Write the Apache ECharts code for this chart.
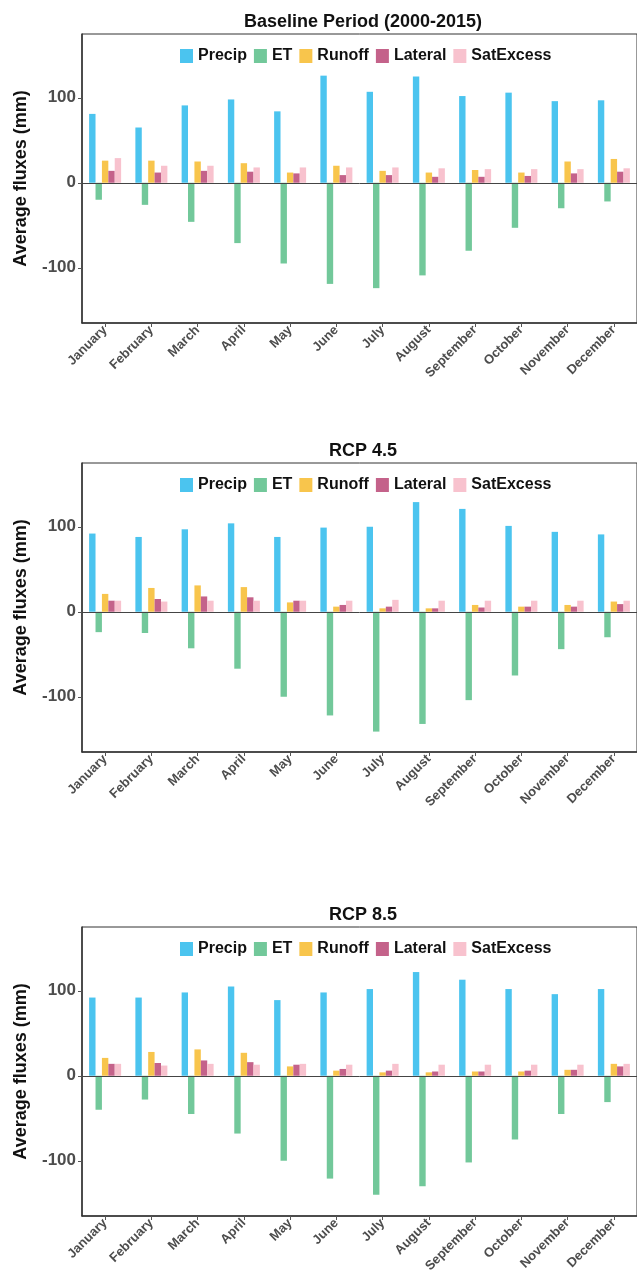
<!DOCTYPE html>
<html>
<head>
<meta charset="utf-8">
<script src="https://cdn.jsdelivr.net/npm/echarts@6/dist/echarts.min.js"></script>
<style>
  html, body { margin: 0; padding: 0; background: #fff; }
  #main { width: 637px; height: 1285px; }
</style>
</head>
<body>
<div id="main"></div>
<script>
// categories and series names
var months = ['January', 'February', 'March', 'April', 'May', 'June', 'July', 'August', 'September', 'October', 'November', 'December'];
var seriesNames = ['Precip', 'ET', 'Runoff', 'Lateral', 'SatExcess'];
var panelTitles = ['Baseline Period (2000-2015)', 'RCP 4.5', 'RCP 8.5'];
var yTicks = [-100, 0, 100];

// Baseline Period (2000-2015)
var basePrecip = [81, 65, 91, 98, 84, 126, 107, 125, 102, 106, 96, 97];
var baseET = [-20, -26, -46, -71, -95, -119, -124, -109, -80, -53, -30, -22];
var baseRunoff = [26, 26, 25, 23, 12, 20, 14, 12, 15, 12, 25, 28];
var baseLateral = [14, 12, 14, 13, 11, 9, 9, 7, 7, 8, 11, 13];
var baseSatExcess = [29, 20, 20, 18, 18, 18, 18, 17, 16, 16, 16, 17];

// RCP 4.5
var rcp45Precip = [92, 88, 97, 104, 88, 99, 100, 129, 121, 101, 94, 91];
var rcp45ET = [-24, -25, -43, -67, -100, -122, -141, -132, -104, -75, -44, -30];
var rcp45Runoff = [21, 28, 31, 29, 11, 6, 4, 4, 8, 6, 8, 12];
var rcp45Lateral = [13, 15, 18, 17, 13, 8, 6, 4, 5, 6, 6, 9];
var rcp45SatExcess = [13, 12, 13, 13, 13, 13, 14, 13, 13, 13, 13, 13];

// RCP 8.5
var rcp85Precip = [92, 92, 98, 105, 89, 98, 102, 122, 113, 102, 96, 102];
var rcp85ET = [-40, -28, -45, -68, -100, -121, -140, -130, -102, -75, -45, -31];
var rcp85Runoff = [21, 28, 31, 27, 11, 6, 4, 4, 5, 5, 7, 14];
var rcp85Lateral = [14, 15, 18, 16, 13, 8, 6, 5, 5, 6, 7, 11];
var rcp85SatExcess = [14, 12, 14, 13, 14, 13, 14, 13, 13, 13, 13, 14];

var panelData = [
  [basePrecip, baseET, baseRunoff, baseLateral, baseSatExcess],
  [rcp45Precip, rcp45ET, rcp45Runoff, rcp45Lateral, rcp45SatExcess],
  [rcp85Precip, rcp85ET, rcp85Runoff, rcp85Lateral, rcp85SatExcess]
];

var colors = ['#4BC4EF', '#72C89A', '#F8C54C', '#C4628A', '#F8C2CE'];
var gridTops = [34, 463, 927];
var gridHeight = 289;

var chart = echarts.init(document.getElementById('main'));

var titles = [], legends = [], grids = [], xAxes = [], yAxes = [], series = [];

panelTitles.forEach(function (t, p) {
  var top = gridTops[p];
  titles.push({
    text: t,
    left: 358,
    textAlign: 'center',
    top: top - 26,
    textStyle: { fontFamily: 'Liberation Sans', fontSize: 18, fontWeight: 'bold', color: '#111' }
  });
  legends.push({
    data: seriesNames,
    left: 175,
    top: top + 9,
    icon: 'rect',
    itemWidth: 13,
    itemHeight: 14,
    itemGap: 7,
    textStyle: { fontFamily: 'Liberation Sans', fontSize: 16, fontWeight: 'bold', color: '#111' }
  });
  grids.push({
    left: 82,
    right: -2,
    top: top,
    height: gridHeight,
    show: true,
    borderColor: '#333',
    borderWidth: 1
  });
  xAxes.push({
    type: 'category',
    gridIndex: p,
    data: months,
    axisLine: { onZero: false, lineStyle: { color: '#333', width: 1.5 } },
    axisTick: { show: true, alignWithLabel: true, length: 4, lineStyle: { color: '#555' } },
    axisLabel: {
      interval: 0,
      rotate: 45,
      margin: 5,
      fontFamily: 'Liberation Sans',
      fontSize: 13,
      fontWeight: 'bold',
      color: '#4d4d4d'
    },
    splitLine: { show: false }
  });
  yAxes.push({
    type: 'value',
    gridIndex: p,
    min: -165,
    max: 175,
    name: 'Average fluxes (mm)',
    nameLocation: 'middle',
    nameGap: 52,
    nameTextStyle: { fontFamily: 'Liberation Sans', fontSize: 18, fontWeight: 'bold', color: '#111' },
    axisLine: { show: true, lineStyle: { color: '#333', width: 1.5 } },
    axisTick: { show: true, length: 4, customValues: yTicks, lineStyle: { color: '#555' } },
    axisLabel: {
      customValues: yTicks,
      margin: 6,
      fontFamily: 'Liberation Sans',
      fontSize: 17,
      fontWeight: 'bold',
      color: '#4d4d4d'
    },
    splitLine: { show: false }
  });
  seriesNames.forEach(function (name, s) {
    var item = {
      name: name,
      type: 'bar',
      xAxisIndex: p,
      yAxisIndex: p,
      barWidth: 6.4,
      barGap: '0%',
      itemStyle: { color: colors[s] },
      data: panelData[p][s]
    };
    if (s === 0) {
      item.markLine = {
        silent: true,
        symbol: ['none', 'none'],
        label: { show: false },
        lineStyle: { color: '#444', width: 1, type: 'solid' },
        data: [{ yAxis: 0 }]
      };
    }
    series.push(item);
  });
});

chart.setOption({
  animation: false,
  backgroundColor: '#fff',
  title: titles,
  legend: legends,
  grid: grids,
  xAxis: xAxes,
  yAxis: yAxes,
  series: series
});
</script>
</body>
</html>
